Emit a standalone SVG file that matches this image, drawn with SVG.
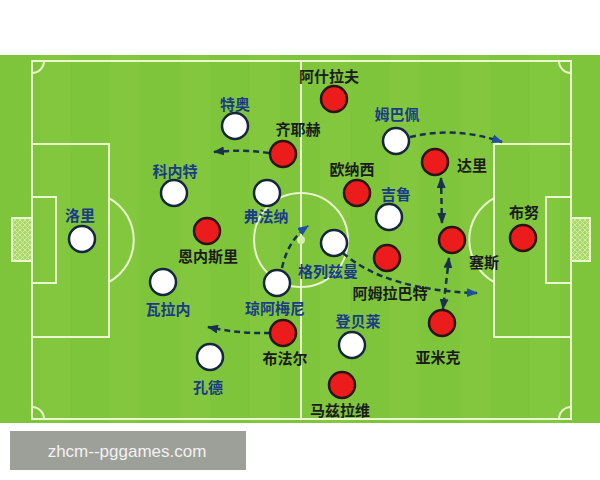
<svg xmlns="http://www.w3.org/2000/svg" width="600" height="480" viewBox="0 0 600 480">
<style>
.line{fill:none;stroke:#eaf6cf;stroke-width:2}
.w{fill:#ffffff;stroke:#15263d;stroke-width:2.5}
.r{fill:#ec1c1c;stroke:#2a1414;stroke-width:2.5}
.lb{font-family:"Noto Sans CJK SC","Noto Sans",sans-serif;font-weight:bold;font-size:15px;text-anchor:middle;dominant-baseline:central}
.bl{fill:#1a3b88}
.bk{fill:#1b1b1b}
.arr{fill:none;stroke:#17324a;stroke-width:2.5;stroke-dasharray:6 4}
</style>
<defs>
<pattern id="net" width="5" height="5" patternUnits="userSpaceOnUse">
<rect width="5" height="5" fill="#a9d768"/>
<path d="M0,0 L5,5 M5,0 L0,5" stroke="#d8efb0" stroke-width="0.8"/>
</pattern>
<marker id="ah" markerUnits="userSpaceOnUse" markerWidth="11" markerHeight="9" refX="10" refY="4.5" orient="auto-start-reverse" viewBox="0 0 11 9">
<path d="M0,0 L11,4.5 L0,9 z" fill="#17324a"/>
</marker>
<marker id="ahb" markerUnits="userSpaceOnUse" markerWidth="11" markerHeight="9" refX="10" refY="4.5" orient="auto" viewBox="0 0 11 9">
<path d="M0,0 L11,4.5 L0,9 z" fill="#1f4fa3"/>
</marker>
</defs>
<rect width="600" height="480" fill="#ffffff"/>
<g id="field">
<rect x="0" y="55" width="600" height="368" fill="#7ec53b"/>
<g fill="#88cb42" opacity="0.45">
<rect x="40" y="55" width="30" height="368"/>
<rect x="110" y="55" width="30" height="368"/>
<rect x="180" y="55" width="30" height="368"/>
<rect x="250" y="55" width="30" height="368"/>
<rect x="320" y="55" width="30" height="368"/>
<rect x="390" y="55" width="30" height="368"/>
<rect x="460" y="55" width="30" height="368"/>
<rect x="530" y="55" width="30" height="368"/>
</g>
<rect x="12" y="218" width="20" height="43" fill="url(#net)" stroke="#eaf6cf" stroke-width="2"/>
<rect x="571" y="218" width="19" height="43" fill="url(#net)" stroke="#eaf6cf" stroke-width="2"/>
<rect class="line" x="32" y="61" width="539" height="358"/>
<line class="line" x1="301" y1="61" x2="301" y2="419"/>
<circle class="line" cx="301" cy="240" r="47"/>
<circle cx="301" cy="240" r="4" fill="#d4efa8"/>
<rect class="line" x="32" y="144" width="77" height="193"/>
<rect class="line" x="32" y="197" width="24" height="86"/>
<path class="line" d="M109,198 A48,48 0 0 1 109,282"/>
<rect class="line" x="494" y="144" width="77" height="193"/>
<rect class="line" x="546" y="197" width="25" height="86"/>
<path class="line" d="M494,198 A48,48 0 0 0 494,282"/>
<path class="line" d="M32,73 A12,12 0 0 0 44,61"/>
<path class="line" d="M559,61 A12,12 0 0 0 571,73"/>
<path class="line" d="M32,407 A12,12 0 0 1 44,419"/>
<path class="line" d="M559,419 A12,12 0 0 1 571,407"/>
</g>
<g id="connectors">
<path class="arr" d="M269,153 Q242,149 214,152" marker-end="url(#ah)"/>
<path class="arr" d="M270,333 Q240,334 208,327" marker-end="url(#ah)"/>
<path class="arr" d="M410,137 Q455,126 502,142" marker-end="url(#ahb)"/>
<path class="arr" d="M282,268 Q288,240 308,226" marker-end="url(#ahb)"/>
<path class="arr" d="M343,253 Q385,290 477,293" marker-end="url(#ahb)"/>
<path class="arr" d="M441,178 L442,223" marker-start="url(#ah)" marker-end="url(#ah)"/>
<path class="arr" d="M449,258 L443,309" marker-start="url(#ah)" marker-end="url(#ah)"/>
</g>
<g id="p-lori"><circle class="w" cx="82" cy="239" r="13"/><text class="lb bl" x="80" y="214">洛里</text></g>
<g id="p-teo"><circle class="w" cx="235" cy="126" r="13"/><text class="lb bl" x="235" y="103">特奥</text></g>
<g id="p-konate"><circle class="w" cx="174" cy="193" r="13"/><text class="lb bl" x="175" y="170">科内特</text></g>
<g id="p-fofana"><circle class="w" cx="267" cy="193" r="13"/><text class="lb bl" x="266" y="215">弗法纳</text></g>
<g id="p-varane"><circle class="w" cx="163" cy="282" r="13"/><text class="lb bl" x="168" y="308">瓦拉内</text></g>
<g id="p-tchouameni"><circle class="w" cx="277" cy="283" r="13"/><text class="lb bl" x="275" y="307">琼阿梅尼</text></g>
<g id="p-kounde"><circle class="w" cx="210" cy="357" r="13"/><text class="lb bl" x="208" y="386">孔德</text></g>
<g id="p-griezmann"><circle class="w" cx="334" cy="243" r="13"/><text class="lb bl" x="328" y="270">格列兹曼</text></g>
<g id="p-dembele"><circle class="w" cx="352" cy="345" r="13"/><text class="lb bl" x="358" y="320">登贝莱</text></g>
<g id="p-giroud"><circle class="w" cx="389" cy="217" r="13"/><text class="lb bl" x="396" y="193">吉鲁</text></g>
<g id="p-mbappe"><circle class="w" cx="396" cy="141" r="13"/><text class="lb bl" x="397" y="113">姆巴佩</text></g>
<g id="p-hakimi"><circle class="r" cx="334" cy="99" r="13"/><text class="lb bk" x="329" y="75">阿什拉夫</text></g>
<g id="p-ziyech"><circle class="r" cx="283" cy="154" r="13"/><text class="lb bk" x="298" y="128">齐耶赫</text></g>
<g id="p-ounahi"><circle class="r" cx="357" cy="193" r="13"/><text class="lb bk" x="352" y="168">欧纳西</text></g>
<g id="p-dari"><circle class="r" cx="435" cy="162" r="13"/><text class="lb bk" x="472" y="164">达里</text></g>
<g id="p-ennesyri"><circle class="r" cx="207" cy="231" r="13"/><text class="lb bk" x="208" y="255">恩内斯里</text></g>
<g id="p-boufal"><circle class="r" cx="283" cy="333" r="13"/><text class="lb bk" x="285" y="357">布法尔</text></g>
<g id="p-saiss"><circle class="r" cx="452" cy="240" r="13"/><text class="lb bk" x="484" y="261">塞斯</text></g>
<g id="p-bounou"><circle class="r" cx="523" cy="238" r="13"/><text class="lb bk" x="524" y="211">布努</text></g>
<g id="p-amrabat"><circle class="r" cx="387" cy="258" r="13"/><text class="lb bk" x="390" y="292">阿姆拉巴特</text></g>
<g id="p-yamiq"><circle class="r" cx="442" cy="323" r="13"/><text class="lb bk" x="438" y="356">亚米克</text></g>
<g id="p-mazraoui"><circle class="r" cx="342" cy="385" r="13"/><text class="lb bk" x="340" y="409">马兹拉维</text></g>
<g id="watermark">
<rect x="10" y="431" width="236" height="39" fill="#9d9f99"/>
<text x="127" y="457" font-family="Liberation Sans, Arial, sans-serif" font-size="17" fill="#f2f2f2" text-anchor="middle">zhcm--pggames.com</text>
</g>
</svg>
